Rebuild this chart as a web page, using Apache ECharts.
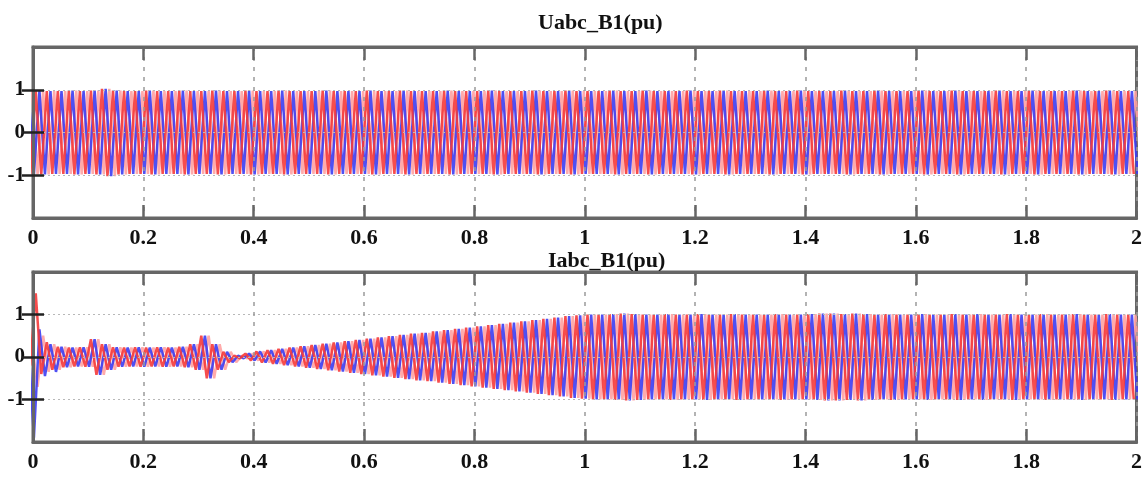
<!DOCTYPE html>
<html>
<head>
<meta charset="utf-8">
<script src="https://cdn.jsdelivr.net/npm/echarts@6/dist/echarts.min.js"></script>
<style>
html,body{margin:0;padding:0;background:#fff;}
#c{width:1145px;height:483px;}
</style>
</head>
<body>
<div id="c"></div>
<script>
// ---- data ----
const panelTitles = ['Uabc_B1(pu)', 'Iabc_B1(pu)'];
const xTicks = [0, 0.2, 0.4, 0.6, 0.8, 1, 1.2, 1.4, 1.6, 1.8, 2];
const yTicks = [-1, 0, 1];
const cyclePeriod = 0.02; // 10 cycles per 0.2 s

// peak amplitude of each cycle (cycle k spans k*0.02 .. (k+1)*0.02 s), voltage panel
const ampU = [
  0.98, 0.97, 0.97, 0.98, 0.97, 0.98, 1.02, 0.98, 0.97, 0.97,
  0.98, 0.97, 0.97, 0.98, 0.97, 0.97, 0.98, 0.97, 0.97, 0.98,
  0.97, 0.97, 0.98, 0.97, 0.97, 0.97, 0.98, 0.97, 0.97, 0.97,
  0.98, 0.97, 0.97, 0.98, 0.97, 0.97, 0.97, 0.98, 0.97, 0.97,
  0.97, 0.98, 0.97, 0.97, 0.97, 0.98, 0.97, 0.97, 0.98, 0.97,
  0.97, 0.97, 0.98, 0.97, 0.97, 0.98, 0.97, 0.97, 0.97, 0.98,
  0.97, 0.97, 0.98, 0.97, 0.97, 0.97, 0.98, 0.97, 0.97, 0.98,
  0.97, 0.97, 0.97, 0.98, 0.97, 0.97, 0.98, 0.97, 0.97, 0.97,
  0.98, 0.97, 0.97, 0.98, 0.97, 0.97, 0.97, 0.98, 0.97, 0.97,
  0.98, 0.97, 0.97, 0.97, 0.98, 0.97, 0.97, 0.98, 0.97, 0.97
];
// peak amplitude of each cycle, current panel
const ampI = [
  0.35, 0.30, 0.24, 0.22, 0.23, 0.42, 0.30, 0.23, 0.22, 0.23,
  0.22, 0.23, 0.22, 0.24, 0.30, 0.50, 0.30, 0.12, 0.03, 0.08,
  0.13, 0.16, 0.19, 0.22, 0.25, 0.28, 0.31, 0.34, 0.37, 0.40,
  0.43, 0.46, 0.49, 0.52, 0.55, 0.57, 0.60, 0.63, 0.66, 0.69,
  0.72, 0.75, 0.78, 0.81, 0.84, 0.87, 0.90, 0.93, 0.96, 0.98,
  1.00, 1.00, 1.01, 1.02, 1.01, 1.00, 1.00, 1.01, 1.00, 1.00,
  1.01, 1.00, 1.00, 1.01, 1.00, 1.00, 1.00, 1.01, 1.00, 1.00,
  1.01, 1.02, 1.02, 1.01, 1.02, 1.01, 1.00, 1.01, 1.00, 1.00,
  1.01, 1.00, 1.00, 1.01, 1.00, 1.01, 1.00, 1.00, 1.01, 1.00,
  1.00, 1.01, 1.00, 1.00, 1.01, 1.00, 1.00, 1.01, 1.00, 1.00
];
// first peaks of the current (switch-on transient), per phase: +,-,+,-,... from cycle -1
const iStartA = [0.2, -0.2, 1.5, -0.4, 0.35, -0.3];
const iStartB = [0.3, -1.9, 0.65, -0.45, 0.3, -0.35];
const iStartC = [0.3, -0.7, 0.5, -0.35, 0.3, -0.3];

const phaseColors = ['#f53a3a', '#3c3cf2', '#ffa2a2'];
const phaseNames = ['a', 'b', 'c'];

// ---- build peak tables for each phase ----
function peaks(amps, phase, start) {
  const pts = [];
  const off = phase * cyclePeriod / 3;
  for (let k = -1; k < amps.length; k++) {
    const a = amps[Math.max(k, 0)];
    const t0 = k * cyclePeriod + off;
    const i = 2 * (k + 1);
    const pos = (start && start[i] !== undefined) ? start[i] : a;
    const neg = (start && start[i + 1] !== undefined) ? start[i + 1] : -a;
    pts.push([t0 + cyclePeriod / 4, pos]);
    pts.push([t0 + 3 * cyclePeriod / 4, neg]);
  }
  return pts;
}

const font = 'Liberation Serif, Times New Roman, serif';
const grids = [
  {left: 33, right: 7, top: 47, height: 171},
  {left: 33, right: 7, top: 272, height: 170}
];
const fmtX = v => String(+v.toFixed(1));
const frame = {show: true, onZero: false, lineStyle: {color: '#666', width: 3}};

const xAxes = [], yAxes = [];
grids.forEach((g, gi) => {
  xAxes.push({
    type: 'value', gridIndex: gi, min: 0, max: 2, interval: 0.2, position: 'bottom', z: 10,
    axisLine: frame,
    axisTick: {inside: true, length: 13, lineStyle: {color: '#666', width: 2.5}},
    axisLabel: {fontFamily: font, fontWeight: 'bold', fontSize: 22, color: '#111',
      margin: 9, formatter: fmtX, showMinLabel: true, showMaxLabel: true},
    splitLine: {show: true, lineStyle: {type: [4, 6], color: '#9a9a9a', width: 1.5}}
  });
  xAxes.push({
    type: 'value', gridIndex: gi, min: 0, max: 2, interval: 0.2, position: 'top', z: 10,
    axisLine: frame,
    axisTick: {inside: true, length: 13, lineStyle: {color: '#666', width: 2.5}},
    axisLabel: {show: false}, splitLine: {show: false}
  });
  yAxes.push({
    type: 'value', gridIndex: gi, min: -2, max: 2, interval: 1, position: 'left', z: 10,
    axisLine: frame,
    axisTick: {show: false},
    axisLabel: {fontFamily: font, fontWeight: 'bold', fontSize: 21, color: '#111', margin: 8,
      formatter: v => (yTicks.indexOf(v) >= 0 ? String(v) : '')},
    splitLine: {show: true, lineStyle: {type: [2, 3], color: '#b8b8b8', width: 1}}
  });
  yAxes.push({
    type: 'value', gridIndex: gi, min: -2, max: 2, interval: 1, position: 'right',
    zlevel: 1, z: 10,
    axisLine: {show: false},
    axisTick: {show: true, inside: true, length: 11, customValues: yTicks,
      lineStyle: {color: '#222', width: 2.5}},
    axisLabel: {show: false}, splitLine: {show: false}
  });
  yAxes.push({
    type: 'value', gridIndex: gi, min: -2, max: 2, interval: 1, position: 'left',
    zlevel: 1, z: 10,
    axisLine: {show: false},
    axisTick: {show: true, inside: true, length: 11, customValues: yTicks,
      lineStyle: {color: '#222', width: 2.5}},
    axisLabel: {show: false}, splitLine: {show: false}
  });
});

const series = [];
const drawOrder = [2, 1, 0];
[[ampU, [null, null, null]], [ampI, [iStartA, iStartB, iStartC]]].forEach((pair, gi) => {
  drawOrder.forEach(p => {
    series.push({
      type: 'line', name: phaseNames[p], xAxisIndex: 2 * gi, yAxisIndex: 3 * gi,
      data: peaks(pair[0], p, pair[1][p]),
      showSymbol: false, symbol: 'none', clip: true, silent: true,
      lineStyle: {color: phaseColors[p], width: 2.5, opacity: 0.9},
      z: 2
    });
  });
});

const chart = echarts.init(document.getElementById('c'), null, {renderer: 'canvas'});
chart.setOption({
  animation: false,
  backgroundColor: '#fff',
  title: [
    {text: panelTitles[0], left: 533, top: 7,
     textStyle: {fontFamily: font, fontWeight: 'bold', fontSize: 22, color: '#111'}},
    {text: panelTitles[1], left: 543, top: 245,
     textStyle: {fontFamily: font, fontWeight: 'bold', fontSize: 22, color: '#111'}}
  ],
  grid: grids.map(g => Object.assign({show: true, borderColor: '#666', borderWidth: 3,
    backgroundColor: 'transparent'}, g)),
  xAxis: xAxes,
  yAxis: yAxes,
  series: series
});
</script>
</body>
</html>
